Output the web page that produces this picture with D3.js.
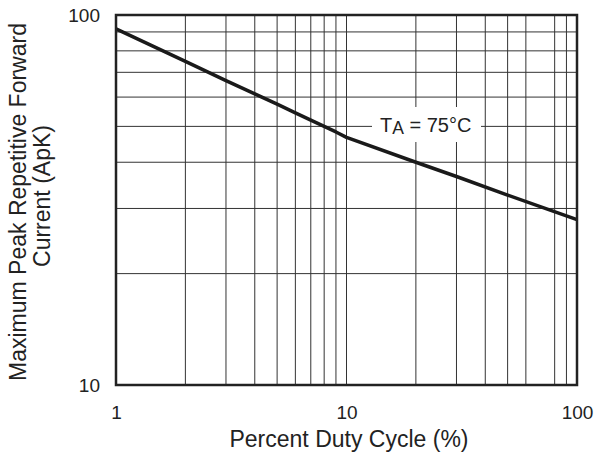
<!DOCTYPE html>
<html>
<head>
<meta charset="utf-8">
<script src="https://cdn.jsdelivr.net/npm/d3@7"></script>
<style>
  html, body { margin: 0; padding: 0; background: #fff; }
  svg { display: block; font-family: "Liberation Sans", Arial, sans-serif; }
</style>
</head>
<body>
<svg id="chart" width="594" height="453"></svg>
<script>
// ---- data ----
const dutyCycle = [1, 2, 3, 4, 5, 6, 7, 8, 9, 10, 20, 30, 50, 100];
const peakCurrent = [91.7, 74.9, 66.5, 61.2, 57.4, 54.4, 52, 50, 48.3, 46.7, 40, 36.6, 32.6, 28];
const xGrid = [2, 3, 4, 5, 6, 7, 8, 9, 10, 20, 30, 40, 50, 60, 80, 90];
const yGrid = [20, 30, 40, 50, 60, 70, 80, 90];
const xTicks = [1, 10, 100];
const yTicks = [10, 100];
const xTitle = "Percent Duty Cycle (%)";
const yTitle = ["Maximum Peak Repetitive Forward", "Current (ApK)"];

// ---- layout ----
const pL = 116, pR = 577, pT = 15, pB = 385;
const svg = d3.select("#chart");
const x = d3.scaleLog().domain([1, 100]).range([pL, pR]);
const y = d3.scaleLog().domain([10, 100]).range([pB, pT]);

// grid
const grid = svg.append("g").attr("stroke", "#333").attr("stroke-width", 1);
grid.selectAll("line.v").data(xGrid).join("line").attr("class", "v")
  .attr("x1", d => x(d)).attr("x2", d => x(d))
  .attr("y1", pT).attr("y2", pB);
grid.selectAll("line.h").data(yGrid).join("line").attr("class", "h")
  .attr("y1", d => y(d)).attr("y2", d => y(d))
  .attr("x1", pL).attr("x2", pR);

// label box masking grid
const lbl = svg.append("g");
lbl.append("rect").attr("x", 372).attr("y", 107).attr("width", 109).attr("height", 35).attr("fill", "#fff");

// curve
const line = d3.line().x((d, i) => x(dutyCycle[i])).y(d => y(d)).curve(d3.curveLinear);
svg.append("path").datum(peakCurrent)
  .attr("d", line).attr("fill", "none")
  .attr("stroke", "#1a1a1a").attr("stroke-width", 3.5).attr("stroke-linejoin", "round");

// label text
const t = lbl.append("text").attr("x", 380).attr("y", 131.5).attr("font-size", 20).attr("fill", "#222");
t.append("tspan").text("T");
t.append("tspan").attr("font-size", 17.5).attr("dy", 2).text("A");
t.append("tspan").attr("dy", -2).text(" = 75\u00B0C");

// frame
svg.append("rect").attr("x", pL).attr("y", pT).attr("width", pR - pL).attr("height", pB - pT)
  .attr("fill", "none").attr("stroke", "#222").attr("stroke-width", 2.5);

// axes
const xAxis = svg.append("g").attr("transform", `translate(0,${pB})`)
  .call(d3.axisBottom(x).tickValues(xTicks).tickSize(0).tickPadding(21).tickFormat(d3.format("d")));
xAxis.select(".domain").remove();
xAxis.attr("font-family", null).attr("font-size", 19);
xAxis.selectAll("text").attr("fill", "#222");

const yAxis = svg.append("g").attr("transform", `translate(${pL},0)`)
  .call(d3.axisLeft(y).tickValues(yTicks).tickSize(0).tickPadding(16).tickFormat(d3.format("d")));
yAxis.select(".domain").remove();
yAxis.attr("font-family", null).attr("font-size", 19);
yAxis.selectAll("text").attr("fill", "#222");

// titles
svg.append("text").attr("x", 349).attr("y", 447).attr("text-anchor", "middle")
  .attr("font-size", 23).attr("fill", "#222").text(xTitle);
svg.append("text").attr("transform", "translate(26,202) rotate(-90)").attr("text-anchor", "middle")
  .attr("font-size", 23).attr("fill", "#222").text(yTitle[0]);
svg.append("text").attr("transform", "translate(50,196) rotate(-90)").attr("text-anchor", "middle")
  .attr("font-size", 23).attr("fill", "#222").text(yTitle[1]);
</script>
</body>
</html>
